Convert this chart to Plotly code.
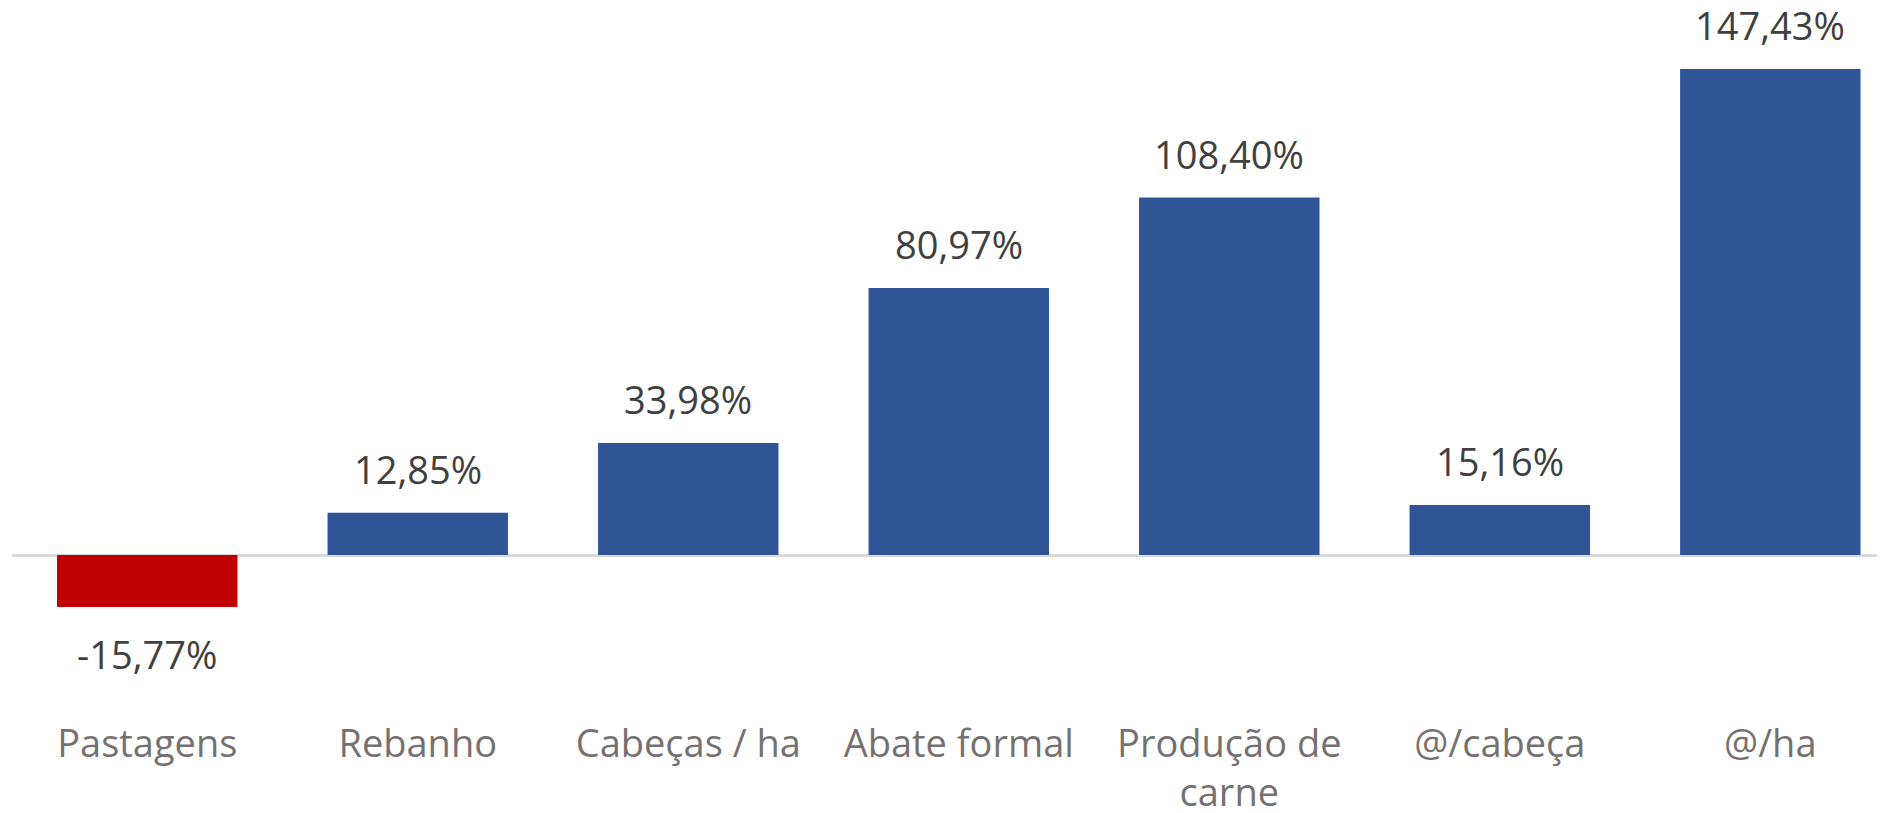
import plotly.graph_objects as go

categories = ["Pastagens", "Rebanho", "Cabeças / ha", "Abate formal", "Produção de<br>carne", "@/cabeça", "@/ha"]
values = [-15.77, 12.85, 33.98, 80.97, 108.40, 15.16, 147.43]
labels = ["-15,77%", "12,85%", "33,98%", "80,97%", "108,40%", "15,16%", "147,43%"]

colors = ["#C00000" if v < 0 else "#2F5597" for v in values]

fig = go.Figure(go.Bar(x=categories, y=values, marker=dict(color=colors, line=dict(width=0)),
                       width=0.667, hoverinfo="skip"))

for c, v, t in zip(categories, values, labels):
    fig.add_annotation(x=c, y=v, text=t, showarrow=False, yanchor="middle",
                       yshift=44 if v >= 0 else -47,
                       font=dict(family="Open Sans", size=38, color="#404040"))

fig.update_layout(
    width=1877, height=805,
    margin=dict(l=4, r=0, t=0, b=95),
    plot_bgcolor="white", paper_bgcolor="white",
    showlegend=False,
    xaxis=dict(range=[-0.5, 6.424], showgrid=False, showline=False, ticks="", automargin=False,
               tickfont=dict(family="Open Sans", size=38, color="#767171")),
    yaxis=dict(range=[-49.4, 165.9], showgrid=False, showticklabels=False, ticks="", automargin=False,
               zeroline=True, zerolinecolor="#D9D9D9", zerolinewidth=2.5),
)

fig.write_html("out.html")
